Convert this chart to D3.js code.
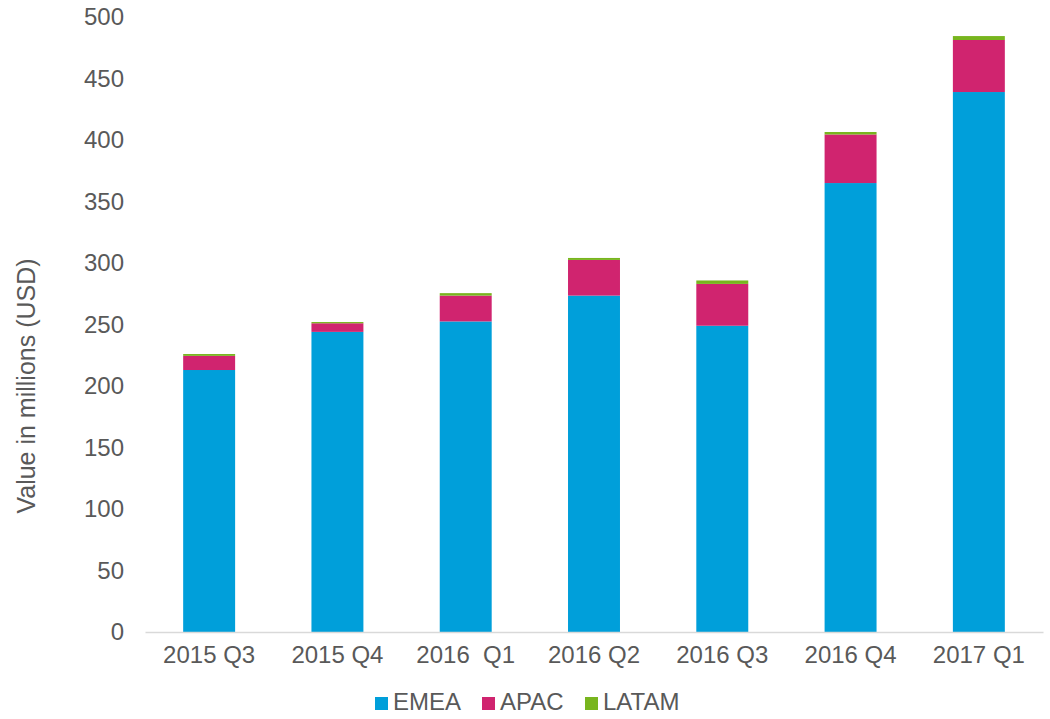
<!DOCTYPE html>
<html>
<head>
<meta charset="utf-8">
<script src="https://cdn.jsdelivr.net/npm/d3@7"></script>
<style>
  body { margin: 0; background: #fff; }
  text { font-family: "Liberation Sans", Arial, sans-serif; fill: #595959; }
</style>
</head>
<body>
<script>
// data
var quarters = ['2015 Q3', '2015 Q4', '2016  Q1', '2016 Q2', '2016 Q3', '2016 Q4', '2017 Q1'];
var emea  = [213, 244, 252.5, 273.5, 249, 365, 439];
var apac  = [11.5, 7, 21, 29, 34, 39.5, 42.3];
var latam = [1.5, 1, 2, 1.6, 2.8, 2, 3.2];
var regions = ['EMEA', 'APAC', 'LATAM'];
var colors = ['#009fda', '#d0246f', '#78b51e'];
var yTicks = [0, 50, 100, 150, 200, 250, 300, 350, 400, 450, 500];

var width = 1050,
	height = 719;

// plot edges
var plotLeft = 145, plotRight = 1043, plotTop = 17, plotBottom = 632;

var svg = d3.select('body').append('svg')
	.attr('width', width)
	.attr('height', height);

var rows = quarters.map(function(q, i){
	return {q: q, EMEA: emea[i], APAC: apac[i], LATAM: latam[i]};
});

var stacked = d3.stack().keys(regions)(rows);

var x = d3.scaleBand()
	.domain(quarters)
	.range([plotLeft, plotRight])
	.paddingInner(0.595)
	.paddingOuter(0.2975);

var y = d3.scaleLinear()
	.domain([0, 500])
	.range([plotBottom, plotTop]);

// bars
svg.selectAll('.layer')
	.data(stacked)
	.enter().append('g').classed('layer', true)
	.attr('fill', function(d, i){ return colors[i]; })
	.selectAll('rect')
	.data(function(d){ return d; })
	.enter().append('rect')
	.attr('x', function(d){ return x(d.data.q); })
	.attr('width', x.bandwidth())
	.attr('y', function(d){ return y(d[1]); })
	.attr('height', function(d){ return y(d[0]) - y(d[1]); });

// x axis
var xAxis = svg.append('g')
	.attr('transform', 'translate(0,' + plotBottom + ')')
	.call(d3.axisBottom(x).tickSize(0).tickPadding(14).tickSizeOuter(0));
xAxis.select('.domain').attr('stroke', '#d9d9d9').attr('stroke-width', 1.5);
xAxis.selectAll('text')
	.style('font-size', '24px')
	.style('white-space', 'pre')
	.attr('fill', '#595959');

// y axis
var yAxis = svg.append('g')
	.attr('transform', 'translate(' + plotLeft + ',0)')
	.call(d3.axisLeft(y).tickValues(yTicks).tickSize(0).tickPadding(21));
yAxis.select('.domain').remove();
yAxis.selectAll('text')
	.style('font-size', '24px')
	.attr('fill', '#595959');

// y title
svg.append('text')
	.attr('transform', 'translate(35,386) rotate(-90)')
	.attr('text-anchor', 'middle')
	.style('font-size', '25px')
	.text('Value in millions (USD)');

// legend
var legendX = [375, 482, 585];
var legend = svg.selectAll('.leg')
	.data(regions)
	.enter().append('g').classed('leg', true)
	.attr('transform', function(d, i){ return 'translate(' + legendX[i] + ',697)'; });

legend.append('rect')
	.attr('width', 13)
	.attr('height', 13)
	.attr('fill', function(d, i){ return colors[i]; });

legend.append('text')
	.attr('x', 18)
	.attr('y', 13)
	.style('font-size', '24px')
	.text(function(d){ return d; });
</script>
</body>
</html>
